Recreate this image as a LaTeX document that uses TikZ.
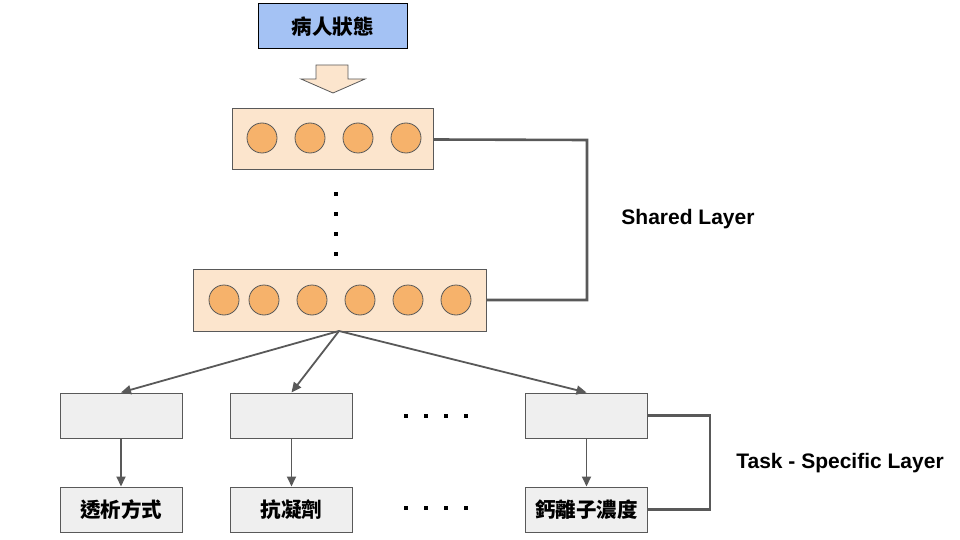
\documentclass[tikz,border=0pt]{standalone}
\usepackage{fontspec}
\usepackage{tikz}
\usepackage{xcolor}
\setmainfont{Liberation Sans}
\newfontfamily\cjk{Noto Sans CJK TC}
\usetikzlibrary{arrows.meta,positioning,calc}
\definecolor{inblue}{HTML}{A4C2F4}
\definecolor{layerbg}{HTML}{FCE5CD}
\definecolor{unitorange}{HTML}{F6B26B}
\definecolor{taskgray}{HTML}{EFEFEF}
\definecolor{linegray}{HTML}{595959}

\tikzset{
    inbox/.style={draw=black,fill=inblue,line width=1pt,minimum width=149pt,minimum height=45pt,inner sep=0pt,font=\cjk\bfseries\fontsize{20.5}{20.5}\selectfont},
    layer/.style={draw=linegray,fill=layerbg,line width=1pt,inner sep=0pt},
    unit/.style={circle,draw=linegray,fill=unitorange,line width=0.8pt,minimum size=30pt,inner sep=0pt},
    task/.style={draw=linegray,fill=taskgray,line width=1pt,minimum width=122pt,minimum height=45pt,inner sep=0pt,font=\cjk\bfseries\fontsize{20.5}{20.5}\selectfont},
    dot/.style={fill=black,minimum size=4pt,inner sep=0pt},
    link/.style={draw=linegray,line width=1.8pt,-{Triangle[length=10pt,width=9pt]}},
    bracket/.style={draw=linegray,line width=2.6pt},
    tag/.style={font=\bfseries\fontsize{21}{21}\selectfont}
}

\begin{document}
\begin{tikzpicture}[x=1pt,y=-1pt]
    \useasboundingbox (0,0) rectangle (960,540);

    % input
    \node[inbox] (state) at (332.5,26.5) {病人狀態};
    \draw[draw=linegray,fill=layerbg,line width=0.8pt]
        (316,65) -- (348,65) -- (348,79) -- (365,79) -- (333,93) -- (301,79) -- (316,79) -- cycle;

    % shared layers
    \node[layer,minimum width=201pt,minimum height=61pt] (toplayer) at (332.5,139.5) {};
    \foreach \x in {262,310,358,406}
        \node[unit] at (\x,138) {};
    \foreach \y in {194,214,234,254}
        \node[dot] at (336,\y) {};
    \node[layer,minimum width=293pt,minimum height=62pt] (botlayer) at (339.5,300) {};
    \foreach \x in {224,264,312,360,408,456}
        \node[unit] at (\x,300) {};

    \coordinate (sharedR) at (587,140);
    \draw[bracket] (toplayer.east) -- (sharedR) |- (botlayer.east);
    \node[tag] (shared) at (688,219) {Shared Layer};

    % task specific layers
    \node[task] (hidA) at (121,415.5) {};
    \node[task] (hidB) at (291.5,415.5) {};
    \node[task] (hidC) at (586.5,415.5) {};
    \node[task] (outA) at (121,509.5) {透析方式};
    \node[task] (outB) at (291.5,509.5) {抗凝劑};
    \node[task] (outC) at (586.5,509.5) {鈣離子濃度};

    \coordinate (src) at (339,331);
    \draw[link] (src) -- (hidA.north);
    \draw[link] (src) -- (hidB.north);
    \draw[link] (src) -- (hidC.north);
    \draw[link] (hidA) -- (outA);
    \draw[link] (hidB) -- (outB);
    \draw[link] (hidC) -- (outC);

    \foreach \x in {406,426,446,466} {
        \node[dot] at (\x,416) {};
        \node[dot] at (\x,508) {};
    }

    \coordinate (taskR) at (710,415.5);
    \draw[bracket] (hidC.east) -- (taskR) |- (outC.east);
    \node[tag] (taskspec) at (840,463) {Task - Specific Layer};
\end{tikzpicture}
\end{document}
